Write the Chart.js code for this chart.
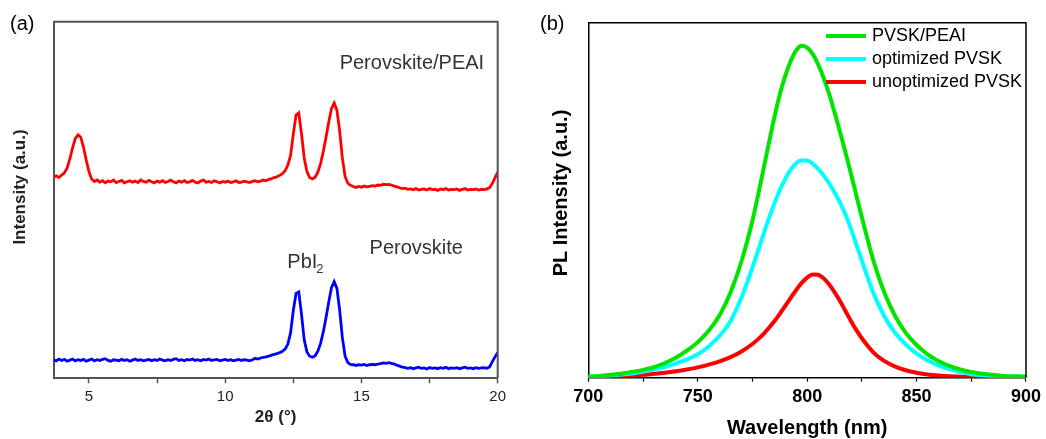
<!DOCTYPE html>
<html>
<head>
<meta charset="utf-8">
<title>XRD and PL</title>
<script src="https://cdn.jsdelivr.net/npm/chart.js@4.4.1/dist/chart.umd.min.js"></script>
<style>
  html, body { margin: 0; padding: 0; background: #fff; }
  body { font-family: 'Liberation Sans', Arial, sans-serif; }
  #wrap { position: relative; width: 1046px; height: 439px; overflow: hidden; }
  canvas { position: absolute; top: 0; }
  #xrd { left: 0; }
  #pl { left: 520px; }
  .tag { position: absolute; top: 12px; font-size: 20px; line-height: 23px; color: #000; }
  #plLegend { position: absolute; left: 826px; top: 24px; font-size: 18px; color: #000; }
  #plLegend .row { display: flex; align-items: center; height: 23px; white-space: nowrap; }
  #plLegend .swatch { display: inline-block; width: 40px; height: 4px; margin-right: 6px; }
</style>
</head>
<body>
<div id="wrap">
  <canvas id="xrd" width="520" height="439"></canvas>
  <canvas id="pl" width="526" height="439"></canvas>
  <div class="tag" style="left:10px">(a)</div>
  <div class="tag" style="left:540px">(b)</div>
  <div id="plLegend"></div>
</div>
<script>
// (a) XRD, 2theta in degrees, intensity in arbitrary units (traces offset)
const xrdAngle = [
  3.7, 3.8, 3.9, 4.0, 4.1, 4.2, 4.3, 4.4, 4.5, 4.6,
  4.7, 4.8, 4.9, 5.0, 5.1, 5.2, 5.3, 5.4, 5.5, 5.6,
  5.7, 5.8, 5.9, 6.0, 6.1, 6.2, 6.3, 6.4, 6.5, 6.6,
  6.7, 6.8, 6.9, 7.0, 7.1, 7.2, 7.3, 7.4, 7.5, 7.6,
  7.7, 7.8, 7.9, 8.0, 8.1, 8.2, 8.3, 8.4, 8.5, 8.6,
  8.7, 8.8, 8.9, 9.0, 9.1, 9.2, 9.3, 9.4, 9.5, 9.6,
  9.7, 9.8, 9.9, 10.0, 10.1, 10.2, 10.3, 10.4, 10.5, 10.6,
  10.7, 10.8, 10.9, 11.0, 11.1, 11.2, 11.3, 11.4, 11.5, 11.6,
  11.7, 11.8, 11.9, 12.0, 12.1, 12.2, 12.3, 12.4, 12.5, 12.6,
  12.7, 12.8, 12.9, 13.0, 13.1, 13.2, 13.3, 13.4, 13.5, 13.6,
  13.7, 13.8, 13.9, 14.0, 14.1, 14.2, 14.3, 14.4, 14.5, 14.6,
  14.7, 14.8, 14.9, 15.0, 15.1, 15.2, 15.3, 15.4, 15.5, 15.6,
  15.7, 15.8, 15.9, 16.0, 16.1, 16.2, 16.3, 16.4, 16.5, 16.6,
  16.7, 16.8, 16.9, 17.0, 17.1, 17.2, 17.3, 17.4, 17.5, 17.6,
  17.7, 17.8, 17.9, 18.0, 18.1, 18.2, 18.3, 18.4, 18.5, 18.6,
  18.7, 18.8, 18.9, 19.0, 19.1, 19.2, 19.3, 19.4, 19.5, 19.6,
  19.7, 19.8, 19.9, 20.0
];
const peaiCounts = [
  56.4, 56.8, 56.3, 57.0, 57.6, 59.0, 61.5, 64.6, 67.2, 68.3,
  67.6, 64.8, 61.2, 58.0, 55.9, 55.2, 55.6, 55.0, 55.4, 54.8,
  55.3, 55.1, 55.6, 54.9, 55.2, 55.5, 54.8, 55.1, 55.4, 55.0,
  55.3, 54.9, 55.6, 55.2, 55.0, 55.5, 55.1, 54.8, 55.3, 55.0,
  55.4, 54.9, 55.2, 55.6, 55.1, 54.8, 55.3, 55.0, 55.4, 54.9,
  55.1, 55.5, 55.0, 54.8, 55.3, 55.6, 55.0, 55.2, 54.9, 55.4,
  55.1, 54.8, 55.2, 55.0, 55.3, 54.9, 55.1, 55.4, 54.9, 55.0,
  55.3, 55.1, 54.9, 55.2, 55.4, 55.1, 55.3, 55.6, 55.4, 55.8,
  56.0, 56.3, 56.5, 56.9, 57.4, 58.2, 59.8, 62.5, 68.5, 73.8,
  74.4, 68.6, 61.8, 58.0, 56.3, 55.9, 56.4, 57.8, 60.2, 63.6,
  67.6, 71.9, 75.6, 77.2, 75.2, 69.4, 61.8, 56.6, 54.7, 54.1,
  53.8, 53.5, 53.8, 53.6, 53.9, 53.7, 53.8, 54.0, 53.9, 54.2,
  54.1, 54.4, 54.3, 54.4, 54.2, 53.9, 53.7, 53.4, 53.2, 53.3,
  53.0, 53.1, 52.9, 53.2, 52.8, 53.0, 53.1, 52.8, 53.2, 52.9,
  53.0, 52.7, 53.1, 52.9, 53.2, 52.8, 53.0, 52.9, 53.1, 52.7,
  53.0, 53.2, 52.8, 53.0, 52.9, 53.1, 52.8, 53.0, 52.9, 53.1,
  53.4, 54.6, 56.2, 57.8
];
const pvskCounts = [
  5.2, 4.9, 5.4, 5.0, 5.3, 4.8, 5.1, 5.4, 4.9, 5.2,
  5.0, 5.3, 4.8, 5.1, 5.4, 4.9, 5.2, 5.0, 5.3, 5.5,
  5.0, 4.8, 5.2, 5.1, 4.9, 5.3, 5.0, 5.2, 4.8, 5.1,
  5.4, 5.0, 5.2, 4.9, 5.1, 5.3, 4.9, 5.2, 5.0, 5.4,
  5.1, 4.9, 5.2, 5.0, 5.3, 5.5, 5.0, 5.2, 4.9, 5.3,
  5.1, 5.4, 5.0, 5.2, 4.9, 5.3, 5.1, 5.4, 5.0, 5.2,
  5.3, 4.9, 5.1, 5.3, 5.0, 5.2, 4.9, 5.1, 5.3, 5.0,
  5.2, 5.1, 4.9, 5.2, 5.6, 5.4, 5.7, 5.9, 6.0, 6.2,
  6.5, 6.7, 6.9, 7.2, 7.6, 8.2, 9.6, 12.8, 19.0, 23.8,
  24.2, 18.0, 10.8, 7.4, 6.2, 5.9, 6.3, 7.6, 9.8, 13.0,
  17.0, 21.4, 25.4, 27.1, 25.2, 19.2, 11.4, 6.2, 4.4, 3.9,
  3.8, 3.6, 3.8, 3.7, 3.9, 3.6, 3.8, 3.9, 3.8, 4.0,
  4.1, 4.3, 4.2, 4.4, 4.2, 4.0, 3.7, 3.4, 3.1, 3.0,
  2.8, 3.0, 2.7, 2.9, 3.1, 2.8, 2.9, 2.6, 3.0, 2.8,
  2.9, 2.7, 3.0, 2.8, 3.1, 2.7, 2.9, 2.8, 3.0, 2.7,
  2.9, 3.1, 2.8, 2.9, 2.7, 3.0, 2.8, 2.9, 3.0, 2.8,
  3.2, 4.6, 6.0, 7.2
];
const xrdTicks = [5, 7.5, 10, 12.5, 15, 17.5, 20];
const xrdMajor = [5, 10, 15, 20];

// (b) PL spectra, wavelength in nm
const plWavelength = [
  700, 705, 710, 715, 720, 725, 730, 735, 740, 745, 750, 755, 760, 765, 770, 775,
  777.5, 780, 782.5, 785, 787.5, 790, 792.5, 795, 797.5, 800,
  802.5, 805, 807.5, 810, 812.5, 815, 817.5, 820, 822.5, 825,
  830, 835, 840, 845, 850, 855, 860, 865, 870, 875, 880, 885, 890, 895, 900
];
const plPeai = [
  0.3, 0.5, 0.8, 1.1, 1.6, 2.2, 3.0, 4.1, 5.6, 7.6, 10.0, 13.2, 17.6, 24.0, 32.8, 44.2,
  51.2, 58.6, 66.0, 73.3, 79.8, 85.0, 89.2, 92.2, 93.5, 93.0,
  91.2, 88.3, 84.5, 80.0, 74.8, 69.3, 63.5, 57.5, 51.3, 45.2,
  33.6, 24.4, 17.6, 12.7, 9.2, 6.6, 4.7, 3.3, 2.3, 1.6, 1.1, 0.8, 0.5, 0.4, 0.3
];
const plOptimized = [
  0.3, 0.4, 0.6, 0.9, 1.2, 1.7, 2.3, 3.0, 4.0, 5.1, 6.6, 8.8, 11.8, 16.0, 22.6, 31.0,
  35.6, 40.3, 44.8, 49.0, 52.8, 56.0, 58.6, 60.4, 61.2, 61.2,
  60.3, 58.8, 57.0, 54.8, 52.2, 49.4, 46.0, 42.0, 37.5, 33.0,
  24.3, 17.6, 12.8, 9.4, 6.8, 4.9, 3.5, 2.4, 1.6, 1.0, 0.7, 0.5, 0.4, 0.3, 0.3
];
const plUnoptimized = [
  0.1, 0.2, 0.3, 0.4, 0.6, 0.8, 1.1, 1.4, 1.8, 2.3, 2.9, 3.7, 4.6, 5.8, 7.4, 9.5,
  10.8, 12.3, 14.0, 15.9, 18.0, 20.2, 22.5, 24.7, 26.7, 28.2,
  29.1, 29.0, 28.0, 26.3, 24.1, 21.6, 18.8, 16.0, 13.4, 11.1,
  7.3, 4.8, 3.2, 2.1, 1.4, 0.9, 0.6, 0.4, 0.3, 0.2, 0.1, 0.1, 0.1, 0.1, 0.1
];
const plTicks = [700, 725, 750, 775, 800, 825, 850, 875, 900];
const plMajor = [700, 750, 800, 850, 900];

const FONT = "'Liberation Sans', Arial, sans-serif";
Chart.defaults.font.family = FONT;

function toPoints(xs, ys) {
  return xs.map((x, i) => ({ x: x, y: ys[i] }));
}

// top and right sides of the box
const framePlugin = {
  id: 'frame',
  afterDraw(chart, args, opts) {
    const a = chart.chartArea;
    const ctx = chart.ctx;
    ctx.save();
    ctx.strokeStyle = opts.color || '#000';
    ctx.lineWidth = opts.width || 1;
    ctx.beginPath();
    ctx.moveTo(a.left, a.top);
    ctx.lineTo(a.right, a.top);
    ctx.lineTo(a.right, a.bottom);
    ctx.stroke();
    ctx.restore();
  }
};

// free text: data anchored notes and the rotated y titles
const notesPlugin = {
  id: 'notes',
  afterDraw(chart, args, opts) {
    const ctx = chart.ctx;
    (opts.items || []).forEach(item => {
      let x = item.x, y = item.y;
      if (item.data) {
        x = chart.scales.x.getPixelForValue(item.x);
        y = chart.scales.y.getPixelForValue(item.y);
      }
      ctx.save();
      ctx.font = item.font;
      ctx.fillStyle = item.color;
      ctx.textAlign = item.align || 'left';
      ctx.textBaseline = 'middle';
      ctx.translate(x, y);
      if (item.rotate) ctx.rotate(item.rotate);
      ctx.fillText(item.text, 0, 0);
      if (item.sub) {
        const w = ctx.measureText(item.text).width;
        ctx.font = item.subFont;
        ctx.fillText(item.sub, w - 1, 7);
      }
      ctx.restore();
    });
  }
};

const xrdChart = new Chart(document.getElementById('xrd'), {
  type: 'line',
  data: {
    datasets: [
      {
        label: 'Perovskite/PEAI',
        data: toPoints(xrdAngle, peaiCounts),
        borderColor: '#ff0000',
        borderWidth: 2.8,
        pointRadius: 0,
        tension: 0
      },
      {
        label: 'Perovskite',
        data: toPoints(xrdAngle, pvskCounts),
        borderColor: '#0000ff',
        borderWidth: 2.8,
        pointRadius: 0,
        tension: 0
      }
    ]
  },
  options: {
    responsive: false,
    animation: false,
    layout: { padding: { top: 21.7, right: 22.3, left: 0, bottom: 0 } },
    plugins: {
      legend: { display: false },
      tooltip: { enabled: false },
      frame: { color: '#555', width: 2 },
      notes: {
        items: [
          { text: 'Perovskite/PEAI', x: 14.2, y: 88.4, data: true, font: '20px ' + FONT, color: '#333' },
          { text: 'Perovskite', x: 15.3, y: 36.5, data: true, font: '20px ' + FONT, color: '#333' },
          { text: 'PbI', sub: '2', x: 12.28, y: 32.6, data: true, font: '20px ' + FONT, subFont: '13px ' + FONT, color: '#333' },
          { text: 'Intensity (a.u.)', x: 20, y: 187, rotate: -Math.PI / 2, align: 'center', font: 'bold 17px ' + FONT, color: '#222' }
        ]
      }
    },
    scales: {
      x: {
        type: 'linear',
        min: 3.7,
        max: 20,
        bounds: 'data',
        afterBuildTicks: axis => { axis.ticks = xrdTicks.map(v => ({ value: v })); },
        afterFit: axis => { axis.height = 60.7; },
        ticks: {
          autoSkip: false,
          maxRotation: 0,
          padding: 5,
          color: '#222',
          font: { size: 15 },
          callback: v => xrdMajor.includes(v) ? String(v) : ''
        },
        grid: { drawOnChartArea: false, drawTicks: true, tickLength: 5, tickColor: '#555', tickWidth: 1.5 },
        border: { color: '#555', width: 2 },
        title: {
          display: true,
          text: '2θ (°)',
          color: '#222',
          font: { size: 17, weight: 'bold', lineHeight: 1 },
          padding: { top: 0, bottom: 13 }
        }
      },
      y: {
        min: 0,
        max: 100,
        afterFit: axis => { axis.width = 53.5; },
        ticks: { display: false },
        grid: { display: false },
        border: { color: '#555', width: 2 }
      }
    }
  },
  plugins: [framePlugin, notesPlugin]
});

const plChart = new Chart(document.getElementById('pl'), {
  type: 'line',
  data: {
    datasets: [
      { label: 'PVSK/PEAI', data: toPoints(plWavelength, plPeai), borderColor: '#00e400' },
      { label: 'optimized PVSK', data: toPoints(plWavelength, plOptimized), borderColor: '#00ffff' },
      { label: 'unoptimized PVSK', data: toPoints(plWavelength, plUnoptimized), borderColor: '#ff0000' }
    ]
  },
  options: {
    responsive: false,
    animation: false,
    datasets: { line: { borderWidth: 4, pointRadius: 0, cubicInterpolationMode: 'monotone' } },
    layout: { padding: { top: 22.7, right: 18.3, left: 0, bottom: 0 } },
    plugins: {
      legend: { display: false },
      tooltip: { enabled: false },
      frame: { color: '#000', width: 1.5 },
      notes: {
        items: [
          { text: 'PL Intensity (a.u.)', x: 41.7, y: 193, rotate: -Math.PI / 2, align: 'center', font: 'bold 20px ' + FONT, color: '#000' }
        ]
      }
    },
    scales: {
      x: {
        type: 'linear',
        min: 700,
        max: 900,
        bounds: 'data',
        afterBuildTicks: axis => { axis.ticks = plTicks.map(v => ({ value: v })); },
        afterFit: axis => { axis.height = 61.3; },
        ticks: {
          autoSkip: false,
          maxRotation: 0,
          padding: 5,
          color: '#000',
          font: { size: 18, weight: 'bold' },
          callback: v => plMajor.includes(v) ? String(v) : ''
        },
        grid: { drawOnChartArea: false, drawTicks: true, tickLength: 4, tickColor: '#000', tickWidth: 1.2 },
        border: { color: '#000', width: 1.5 },
        title: {
          display: true,
          text: 'Wavelength (nm)',
          color: '#000',
          font: { size: 20, weight: 'bold', lineHeight: 1 },
          padding: { top: 0, bottom: 1 }
        }
      },
      y: {
        min: 0,
        max: 100,
        afterFit: axis => { axis.width = 68.3; },
        ticks: { display: false },
        grid: { display: false },
        border: { color: '#000', width: 1.5 }
      }
    }
  },
  plugins: [framePlugin, notesPlugin]
});

// legend inside the plot, top right
const legendBox = document.getElementById('plLegend');
plChart.data.datasets.forEach(ds => {
  const row = document.createElement('div');
  row.className = 'row';
  const swatch = document.createElement('span');
  swatch.className = 'swatch';
  swatch.style.background = ds.borderColor;
  row.appendChild(swatch);
  row.appendChild(document.createTextNode(ds.label));
  legendBox.appendChild(row);
});
</script>
</body>
</html>
